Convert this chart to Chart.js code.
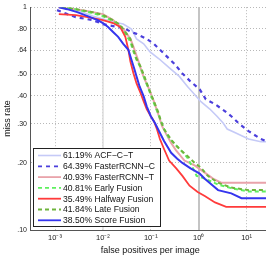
<!DOCTYPE html>
<html><head><meta charset="utf-8">
<script src="https://cdn.jsdelivr.net/npm/chart.js@4/dist/chart.umd.min.js"></script>
<style>html,body{margin:0;padding:0;background:#fff;overflow:hidden;width:266px;height:259px}
#wrap{position:absolute;left:0;top:0;width:272px;height:259px}</style>
</head><body><div id="wrap"><canvas id="c" width="272" height="259"></canvas></div>
<script>
const seriesNames = ['ACF\u2212C\u2212T','FasterRCNN\u2212C','FasterRCNN\u2212T','Early Fusion','Halfway Fusion','Late Fusion','Score Fusion'];
const seriesScores = ['61.19%','64.39%','40.93%','40.81%','35.49%','41.84%','38.50%'];
const yTicks = [0.1,0.2,0.3,0.4,0.5,0.64,0.8,1];
const yTickLabels = ['.10','.20','.30','.40','.50','.64','.80','1'];
const xTicks = [0.001,0.01,0.1,1,10];
const xTickLabels = ['10\u207B\u00B3','10\u207B\u00B2','10\u207B\u00B9','10\u2070','10\u00B9'];

const acfFppi = [0.0013,0.0023,0.0038,0.0061,0.01,0.0163,0.0266,0.0394,0.0504,0.071,0.0952,0.148,0.241,0.394,0.583,0.822,1.10,1.71,2.41,3.24,3.94,5.83,11.0,19.9,31.6];
const acfMr = [1.0,0.970,0.950,0.912,0.885,0.858,0.840,0.798,0.721,0.685,0.631,0.587,0.536,0.489,0.441,0.406,0.378,0.349,0.324,0.302,0.284,0.273,0.256,0.249,0.249];

const frcFppi = [0.0011,0.0018,0.0027,0.0061,0.01,0.0163,0.0266,0.0394,0.0504,0.0822,0.116,0.189,0.309,0.457,0.676,1.05,1.41,2.19,3.57,4.80,6.76,11.0,19.9,31.6];
const frcMr = [0.970,0.931,0.903,0.875,0.840,0.823,0.807,0.774,0.759,0.721,0.685,0.618,0.558,0.504,0.464,0.428,0.386,0.367,0.341,0.324,0.302,0.278,0.256,0.246];

const frtFppi = [0.0012,0.0038,0.01,0.0163,0.0266,0.0375,0.0435,0.0556,0.0644,0.0745,0.0906,0.116,0.148,0.171,0.209,0.266,0.34,0.504,0.822,1.34,1.99,2.94,31.6];
const frtMr = [1.0,0.970,0.931,0.875,0.798,0.721,0.664,0.570,0.514,0.474,0.432,0.378,0.324,0.293,0.270,0.246,0.227,0.205,0.195,0.181,0.170,0.163,0.163];

const earlyFppi = [0.0013,0.0027,0.0061,0.01,0.0163,0.023,0.0294,0.0375,0.0435,0.0504,0.0613,0.071,0.0906,0.116,0.141,0.163,0.189,0.241,0.309,0.435,0.583,0.71,0.906,1.34,2.54,4.80,11.0,31.6];
const earlyMr = [1.0,0.98,0.940,0.912,0.867,0.823,0.759,0.699,0.631,0.581,0.536,0.489,0.428,0.371,0.334,0.308,0.284,0.259,0.244,0.227,0.211,0.195,0.175,0.170,0.160,0.154,0.149,0.149];

const halfFppi = [0.0012,0.0027,0.0048,0.01,0.0163,0.023,0.0294,0.034,0.0375,0.0435,0.0504,0.0613,0.071,0.0822,0.1,0.116,0.134,0.155,0.189,0.241,0.34,0.457,0.644,0.952,1.34,2.19,3.75,31.6];
const halfMr = [0.931,0.922,0.903,0.875,0.849,0.815,0.736,0.644,0.570,0.504,0.455,0.411,0.378,0.349,0.324,0.308,0.284,0.256,0.231,0.205,0.189,0.175,0.158,0.148,0.142,0.133,0.127,0.127];

const lateFppi = [0.0014,0.0027,0.0061,0.01,0.0163,0.023,0.0294,0.0375,0.0435,0.0504,0.0613,0.071,0.0906,0.116,0.141,0.163,0.189,0.219,0.28,0.34,0.435,0.583,0.822,1.10,1.55,2.54,4.80,11.0,31.6];
const lateMr = [1.0,0.98,0.95,0.922,0.875,0.832,0.774,0.721,0.644,0.587,0.541,0.499,0.432,0.378,0.341,0.308,0.284,0.270,0.251,0.239,0.227,0.215,0.200,0.191,0.175,0.163,0.155,0.151,0.151];

const scoreFppi = [0.0012,0.0018,0.0029,0.0048,0.0078,0.01,0.0128,0.0163,0.0208,0.0266,0.034,0.0394,0.0457,0.0504,0.0583,0.071,0.0822,0.1,0.122,0.148,0.189,0.266,0.357,0.457,0.676,1.05,1.34,1.99,2.54,4.80,7.83,31.6];
const scoreMr = [1.0,0.98,0.95,0.912,0.875,0.849,0.815,0.774,0.736,0.685,0.644,0.581,0.525,0.489,0.441,0.398,0.359,0.324,0.302,0.278,0.251,0.222,0.209,0.200,0.189,0.179,0.170,0.158,0.151,0.146,0.139,0.139];

const xs = [acfFppi,frcFppi,frtFppi,earlyFppi,halfFppi,lateFppi,scoreFppi];
const ys = [acfMr,frcMr,frtMr,earlyMr,halfMr,lateMr,scoreMr];
const colors = ['#c5caf7','#4b3fdc','#e9a3aa','#5ff05f','#ff3b3b','#6fb43c','#3535ee'];
const widths = [1.6,2.2,2,2,1.8,2,2];
const dashes = [[],[4,4],[],[4,3],[],[4,3],[]];

const datasets = seriesNames.map((n,i)=>({
  label: seriesScores[i]+' '+n,
  data: xs[i].map((x,j)=>({x:x,y:ys[i][j]})),
  borderColor: colors[i], backgroundColor: colors[i],
  borderWidth: widths[i], borderDash: dashes[i],
  pointRadius: 0, fill: false, tension: 0,
  order: seriesNames.length - i
}));

const FONT = "'Liberation Sans', Arial, sans-serif";

const extras = {
  id: 'extras',
  beforeDatasetsDraw(chart){
    const ctx = chart.ctx, x = chart.scales.x, a = chart.chartArea;
    ctx.save();
    [[0.01,'#dcdcdc',1.5],[1,'#c4c4c4',2]].forEach(([v,c,w])=>{
      const px = Math.round(x.getPixelForValue(v));
      ctx.strokeStyle = c; ctx.lineWidth = w;
      ctx.beginPath(); ctx.moveTo(px, a.top); ctx.lineTo(px, a.bottom); ctx.stroke();
    });
    ctx.restore();
  },
  afterDraw(chart){
    const ctx = chart.ctx;
    const bx = 33.5, by = 148.5, bw = 127, bh = 78;
    ctx.save();
    ctx.fillStyle = '#fff'; ctx.fillRect(bx, by, bw, bh);
    ctx.strokeStyle = '#222'; ctx.lineWidth = 1; ctx.strokeRect(bx, by, bw, bh);
    ctx.font = '8.6px ' + FONT; ctx.textBaseline = 'middle'; ctx.fillStyle = '#111';
    chart.data.datasets.forEach((d,i)=>{
      const yy = 155.5 + i*10.8;
      ctx.save();
      ctx.strokeStyle = d.borderColor; ctx.lineWidth = Math.min(d.borderWidth, 1.8); ctx.setLineDash(d.borderDash);
      ctx.beginPath(); ctx.moveTo(38, yy); ctx.lineTo(61, yy); ctx.stroke();
      ctx.restore();
      ctx.fillText(d.label, 63, yy + 0.5);
    });
    ctx.restore();
  }
};

new Chart(document.getElementById('c'), {
  type: 'line',
  data: { datasets },
  options: {
    responsive: false, animation: false, devicePixelRatio: 1,
    layout: { padding: { top: 5, right: 1.5, left: 0, bottom: 0 } },
    plugins: { legend: { display: false }, tooltip: { enabled: false } },
    scales: {
      x: {
        type: 'logarithmic', min: Math.pow(10,-3.5), max: Math.pow(10,1.5),
        afterBuildTicks: s => { s.ticks = xTicks.map(v=>({value:v})); },
        afterFit: s => { s.height = 29; },
        ticks: { callback: (v)=>{ const k = xTicks.indexOf(v); return k>=0 ? xTickLabels[k] : ''; },
                 font: { family: FONT, size: 7.5 }, color: '#222', padding: 3, maxRotation: 0, autoSkip: false },
        grid: { color: '#b8b8b8', lineWidth: 1, drawTicks: false },
        border: { display: true, color: '#555', width: 1, dash: [1,2] },
        title: { display: true, text: 'false positives per image', font: { family: FONT, size: 9 }, color: '#111', padding: { top: 0, bottom: 3 } }
      },
      y: {
        type: 'logarithmic', min: 0.1, max: 1,
        afterBuildTicks: s => { s.ticks = yTicks.map(v=>({value:v})); },
        afterFit: s => { s.width = 30; },
        ticks: { callback: (v)=>{ const k = yTicks.indexOf(v); return k>=0 ? yTickLabels[k] : ''; },
                 font: { family: FONT, size: 7 }, color: '#222', padding: 3, autoSkip: false },
        grid: { color: '#b8b8b8', lineWidth: 1, drawTicks: false },
        border: { display: true, color: '#555', width: 1, dash: [1,2] },
        title: { display: true, text: 'miss rate', font: { family: FONT, size: 9 }, color: '#111', padding: { top: 2, bottom: 0 } }
      }
    }
  },
  plugins: [extras]
});
</script>
</body></html>
